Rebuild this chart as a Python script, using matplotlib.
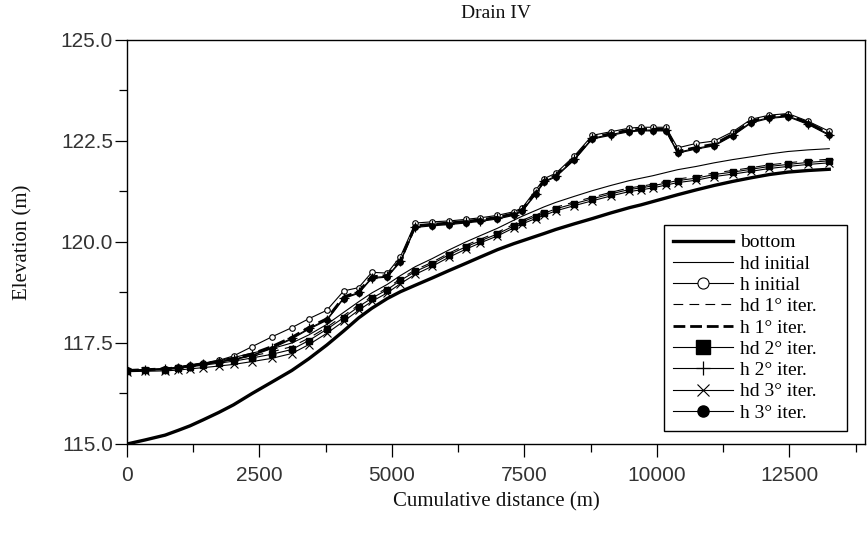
import matplotlib
matplotlib.use("Agg")
import matplotlib.pyplot as plt
from matplotlib.lines import Line2D
from matplotlib.ticker import MultipleLocator, FormatStrFormatter

plt.rcParams['lines.scale_dashes'] = False

distance = [0, 340, 720, 970, 1190, 1440, 1730, 2010, 2360, 2730,
            3110, 3430, 3770, 4090, 4370, 4620, 4910, 5160, 5440, 5760,
            6070, 6390, 6670, 6990, 7300, 7460, 7710, 7870, 8090, 8440,
            8780, 9130, 9480, 9700, 9920, 10170, 10390, 10740, 11080, 11430,
            11780, 12120, 12470, 12850, 13250]

bottom = [115.00, 115.10, 115.22, 115.34, 115.45, 115.60, 115.78, 115.97, 116.25, 116.53,
          116.82, 117.11, 117.45, 117.80, 118.12, 118.36, 118.60, 118.77, 118.93, 119.11,
          119.29, 119.47, 119.63, 119.81, 119.96, 120.03, 120.14, 120.21, 120.31, 120.45,
          120.58, 120.72, 120.85, 120.92, 121.00, 121.09, 121.17, 121.29, 121.40, 121.50,
          121.59, 121.67, 121.73, 121.77, 121.80]

hd_initial = [116.82, 116.84, 116.86, 116.90, 116.95, 117.00, 117.06, 117.14, 117.25, 117.36,
              117.50, 117.70, 117.96, 118.26, 118.52, 118.74, 118.95, 119.17, 119.39, 119.59,
              119.80, 120.00, 120.16, 120.34, 120.54, 120.64, 120.78, 120.87, 120.98, 121.13,
              121.27, 121.40, 121.52, 121.58, 121.64, 121.72, 121.79, 121.87, 121.96, 122.04,
              122.11, 122.18, 122.24, 122.28, 122.31]

h_initial = [116.82, 116.84, 116.86, 116.90, 116.95, 117.00, 117.07, 117.18, 117.41, 117.65,
             117.88, 118.10, 118.31, 118.79, 118.87, 119.25, 119.23, 119.64, 120.47, 120.50,
             120.52, 120.56, 120.60, 120.66, 120.75, 120.85, 121.28, 121.57, 121.70, 122.13,
             122.64, 122.73, 122.82, 122.84, 122.84, 122.84, 122.33, 122.44, 122.50, 122.73,
             123.04, 123.14, 123.18, 122.99, 122.74]

hd_iter1 = [116.81, 116.83, 116.86, 116.89, 116.93, 116.98, 117.03, 117.09, 117.18, 117.28,
            117.41, 117.62, 117.89, 118.18, 118.44, 118.65, 118.86, 119.09, 119.31, 119.50,
            119.72, 119.92, 120.07, 120.24, 120.44, 120.54, 120.67, 120.75, 120.86, 120.99,
            121.11, 121.23, 121.34, 121.38, 121.43, 121.50, 121.56, 121.62, 121.71, 121.77,
            121.84, 121.91, 121.96, 122.01, 122.05]

h_iter1 = [116.82, 116.84, 116.86, 116.89, 116.94, 116.99, 117.05, 117.12, 117.23, 117.41,
           117.64, 117.88, 118.10, 118.64, 118.77, 119.14, 119.17, 119.55, 120.40, 120.44,
           120.47, 120.51, 120.55, 120.61, 120.70, 120.80, 121.22, 121.52, 121.65, 122.07,
           122.59, 122.68, 122.77, 122.79, 122.79, 122.79, 122.24, 122.34, 122.42, 122.67,
           122.99, 123.10, 123.14, 122.95, 122.68]

hd_iter2 = [116.80, 116.82, 116.84, 116.87, 116.91, 116.95, 117.00, 117.05, 117.13, 117.22,
            117.34, 117.56, 117.84, 118.13, 118.40, 118.61, 118.82, 119.05, 119.27, 119.46,
            119.68, 119.88, 120.03, 120.20, 120.40, 120.50, 120.63, 120.71, 120.82, 120.95,
            121.07, 121.19, 121.30, 121.34, 121.39, 121.46, 121.52, 121.58, 121.67, 121.73,
            121.80, 121.87, 121.92, 121.97, 122.01]

h_iter2 = [116.82, 116.84, 116.86, 116.89, 116.93, 116.98, 117.03, 117.10, 117.20, 117.38,
           117.62, 117.86, 118.08, 118.62, 118.75, 119.12, 119.15, 119.53, 120.38, 120.42,
           120.45, 120.49, 120.53, 120.59, 120.68, 120.78, 121.20, 121.50, 121.63, 122.05,
           122.57, 122.66, 122.75, 122.77, 122.77, 122.77, 122.22, 122.32, 122.40, 122.65,
           122.97, 123.08, 123.12, 122.93, 122.66]

hd_iter3 = [116.79, 116.80, 116.81, 116.83, 116.86, 116.89, 116.93, 116.97, 117.04, 117.12,
            117.24, 117.46, 117.74, 118.04, 118.31, 118.53, 118.74, 118.97, 119.20, 119.40,
            119.62, 119.82, 119.98, 120.15, 120.35, 120.45, 120.58, 120.66, 120.77, 120.90,
            121.02, 121.14, 121.25, 121.29, 121.34, 121.41, 121.47, 121.53, 121.62, 121.68,
            121.75, 121.82, 121.87, 121.92, 121.96]

h_iter3 = [116.82, 116.84, 116.86, 116.89, 116.93, 116.98, 117.03, 117.09, 117.19, 117.36,
           117.60, 117.84, 118.06, 118.60, 118.73, 119.10, 119.13, 119.51, 120.36, 120.40,
           120.43, 120.47, 120.51, 120.57, 120.66, 120.76, 121.18, 121.48, 121.61, 122.03,
           122.55, 122.64, 122.73, 122.75, 122.75, 122.75, 122.20, 122.30, 122.38, 122.63,
           122.95, 123.06, 123.10, 122.91, 122.64]

labels = ["bottom", "hd initial", "h initial", "hd 1° iter.", "h 1° iter.",
          "hd 2° iter.", "h 2° iter.", "hd 3° iter.", "h 3° iter."]
title = "Drain IV"
xlabel = "Cumulative distance (m)"
ylabel = "Elevation (m)"

W, H = 868, 538
fig = plt.figure(figsize=(W / 100, H / 100), dpi=100)
L, R, T, B = 127, 865, 40, 444
ax = fig.add_axes([L / W, 1 - B / H, (R - L) / W, (B - T) / H])

k = 'black'
thin = 0.8
styles = [
    dict(lw=2.4, ls='-'),
    dict(lw=thin, ls='-'),
    dict(lw=thin, ls='-', marker='o', mfc='white', mec=k, ms=4.0, mew=0.8),
    dict(lw=thin, ls=(0, (7, 4.5))),
    dict(lw=2.0, ls=(0, (8.5, 3.5))),
    dict(lw=thin, ls='-', marker='s', mfc=k, mec=k, ms=4.8),
    dict(lw=thin, ls='-', marker='+', mec=k, ms=7, mew=0.9),
    dict(lw=thin, ls='-', marker='x', mec=k, ms=6, mew=0.8),
    dict(lw=thin, ls='-', marker='o', mfc=k, mec=k, ms=4.0),
]
series = [bottom, hd_initial, h_initial, hd_iter1, h_iter1,
          hd_iter2, h_iter2, hd_iter3, h_iter3]

for ys, st, lab in zip(series, styles, labels):
    ax.plot(distance, ys, color=k, label=lab, **st)

ax.set_xlim(0, 13925)
ax.set_ylim(115.0, 125.0)
ax.xaxis.set_major_locator(MultipleLocator(2500))
ax.xaxis.set_minor_locator(MultipleLocator(1250))
ax.yaxis.set_major_locator(MultipleLocator(2.5))
ax.yaxis.set_minor_locator(MultipleLocator(1.25))
ax.yaxis.set_major_formatter(FormatStrFormatter('%.1f'))
ax.tick_params(which='major', direction='out', length=9, width=0.9, colors=k,
               labelsize=15, labelcolor='#333333')
ax.tick_params(which='minor', direction='out', length=5.5, width=0.9, colors=k)
ax.tick_params(axis='x', which='major', pad=7)
ax.tick_params(axis='y', which='major', pad=1)
for lab in ax.get_xticklabels() + ax.get_yticklabels():
    lab.set_fontfamily('Liberation Sans')
for sp in ax.spines.values():
    sp.set_linewidth(1.0)
    sp.set_color(k)

serif = 'Liberation Serif'
ax.set_title(title, fontfamily=serif, fontsize=14, pad=16, color='#111111')
ax.set_xlabel(xlabel, fontfamily=serif, fontsize=15, labelpad=5, color='#111111')
ax.set_ylabel(ylabel, fontfamily=serif, fontsize=15, labelpad=20, color='#111111')

# Legend proxies with larger markers
handles = []
for st, lab in zip(styles, labels):
    s = dict(st)
    if 'ms' in s:
        s['ms'] = s['ms'] * 2.0 if s.get('marker') in ('o', 's') else s['ms'] * 1.35
    handles.append(Line2D([], [], color=k, **s))

lx0, lx1, ly0, ly1 = 664, 847, 225, 434
leg = ax.legend(handles, labels, loc='upper left',
                bbox_to_anchor=(lx0 / W, 1 - ly1 / H, (lx1 - lx0) / W, (ly1 - ly0) / H),
                bbox_transform=fig.transFigure, mode='expand', borderaxespad=0,
                prop={'family': serif, 'size': 14}, handlelength=3.1,
                handletextpad=0.35, labelspacing=0.19, borderpad=0.45,
                fancybox=False, framealpha=1, edgecolor=k, numpoints=1)
leg.get_frame().set_linewidth(1.0)

fig.savefig("out.png", dpi=100)
